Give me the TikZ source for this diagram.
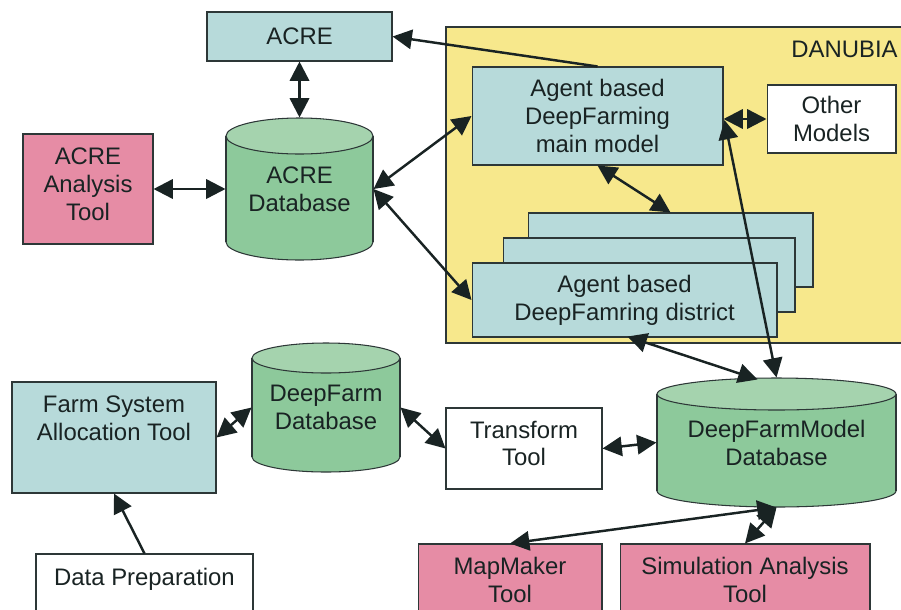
\documentclass[tikz,border=0pt]{standalone}
\usepackage{fontspec}
\setmainfont{Liberation Sans}
\usetikzlibrary{arrows.meta,calc}

\definecolor{boxteal}{RGB}{183,218,218}
\definecolor{toolpink}{RGB}{230,140,165}
\definecolor{dbgreen}{RGB}{141,201,155}
\definecolor{dbtop}{RGB}{165,211,174}
\definecolor{danyellow}{RGB}{247,232,140}
\definecolor{edge}{RGB}{45,55,55}
\definecolor{ink}{RGB}{25,35,35}

\tikzset{
  box/.style={draw=edge,line width=0.6pt,align=center,inner sep=0pt,
    font=\fontsize{13.6}{15.9}\selectfont,text=ink},
  model/.style={box,fill=boxteal},
  tool/.style={box,fill=toolpink},
  plain/.style={box,fill=white},
  dbnode/.style={box,draw=none},
  link/.style={draw=ink,line width=1.4pt,>={Triangle[length=11pt,width=11pt]}},
}

% database drum: centre x, top, bottom, x radius, y radius (pixels)
\newcommand\dbcyl[5]{%
  \filldraw[draw=edge,line width=0.6pt,fill=dbgreen] (#1,#3-#5) ellipse[x radius=#4,y radius=#5];
  \fill[dbgreen] (#1-#4,#2+#5) rectangle (#1+#4,#3-#5);
  \draw[edge,line width=0.6pt] (#1-#4,#2+#5) -- (#1-#4,#3-#5) (#1+#4,#2+#5) -- (#1+#4,#3-#5);
  \filldraw[draw=edge,line width=0.6pt,fill=dbtop] (#1,#2+#5) ellipse[x radius=#4,y radius=#5];}

\begin{document}
\begin{tikzpicture}[x=0.02cm,y=-0.02cm]
  \useasboundingbox (0,0) rectangle (901,609);
  % DANUBIA frame
  \draw[edge,fill=danyellow,line width=0.6pt] (446,27) rectangle (912,343);
  \node[anchor=base east,inner sep=0pt,font=\fontsize{13.6}{15.9}\selectfont,text=ink] (danubia) at (898,57) {DANUBIA};

  % models
  \node[model,minimum width=3.70cm,minimum height=0.98cm] (acre) at (299.5,36.5) {ACRE};
  \node[model,minimum width=5.02cm,minimum height=1.96cm] (main) at (597.5,116) {Agent based\\DeepFarming\\main model};
  \node[plain,minimum width=2.58cm,minimum height=1.36cm] (other) at (831.5,119) {Other\\Models};
  \node[model,minimum width=5.70cm,minimum height=1.48cm] (dback) at (670.5,250) {};
  \node[model,minimum width=5.84cm,minimum height=1.48cm] (dmid) at (649,275) {};
  \node[model,minimum width=6.10cm,minimum height=1.48cm] (dfront) at (624.5,300) {Agent based\\DeepFamring district};
  \node[model,minimum width=4.08cm,minimum height=2.22cm] (farmsys) at (114,437.5) {Farm System\\Allocation Tool\\[5.7pt]\mbox{}};

  % databases
  \dbcyl{299.5}{118}{260}{73.5}{18}
  \node[dbnode,minimum width=2.94cm,minimum height=2.84cm] (acredb) at (299.5,189) {ACRE\\Database};
  \dbcyl{326}{343}{472}{74}{15}
  \node[dbnode,minimum width=2.96cm,minimum height=2.58cm] (dfdb) at (326,407.5) {DeepFarm\\Database};
  \dbcyl{776.5}{378}{507}{119.5}{16}
  \node[dbnode,minimum width=4.78cm,minimum height=2.58cm] (dfmdb) at (776.5,442.5) {DeepFarmModel\\Database};

  % tools
  \node[tool,minimum width=2.60cm,minimum height=2.20cm] (acretool) at (88,189) {ACRE\\Analysis\\Tool\\[-10pt]\mbox{}};
  \node[plain,minimum width=3.12cm,minimum height=1.62cm] (transform) at (524,448.5) {Transform\\Tool\\[-10pt]\mbox{}};
  \node[plain,minimum width=4.34cm,minimum height=2.04cm] (datprep) at (144.5,605) {Data Preparation\\\mbox{}\\\mbox{}};
  \node[tool,minimum width=3.68cm,minimum height=1.44cm] (mapmaker) at (510,580) {MapMaker\\Tool};
  \node[tool,minimum width=5.00cm,minimum height=1.44cm] (simtool) at (745,580) {Simulation Analysis\\Tool};

  % links
  \draw[link,<->] (acre.south) -- (acredb.north);
  \draw[link,->] (main.north) -- (acre.east);
  \draw[link,<->] (acredb.east) -- (main.west);
  \draw[link,<->] (acredb.east) -- (dfront.west);
  \draw[link,<->] (acretool.east) -- (acredb.west);
  \draw[link,<->] (main.south) -- (dback.north);
  \draw[link,<->] (main.east |- other.west) -- (other.west);
  \draw[link,<->] ($(main.east)+(1,4)$) -- (dfmdb.north);
  \draw[link,<->] ($(dfront.south)+(3,-1)$) -- ($(dfmdb.north)+(-19,2)$);
  \draw[link,<->] (farmsys.east) -- (dfdb.west);
  \draw[link,<->] (dfdb.east) -- (transform.west);
  \draw[link,<->] (transform.east) -- (dfmdb.west);
  \draw[link,<->] (dfmdb.south) -- (mapmaker.north);
  \draw[link,<->] (dfmdb.south) -- (simtool.north);
  \draw[link,->] (datprep.north) -- (farmsys.south);
\end{tikzpicture}
\end{document}
